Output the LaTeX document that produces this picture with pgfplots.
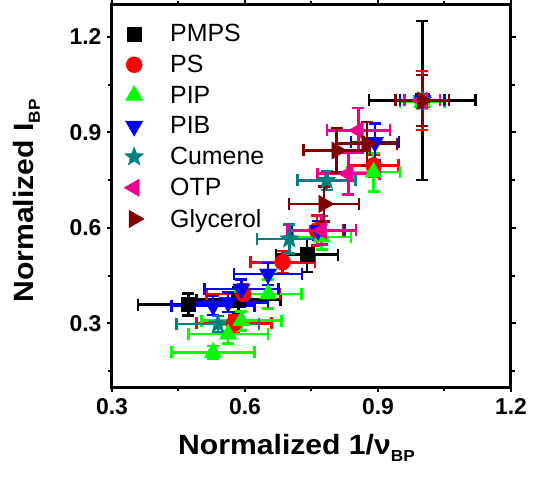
\documentclass[border=0pt]{standalone}
\usepackage{pgfplots}
\pgfplotsset{compat=1.18}
\usepackage{fontspec}
\setmainfont{Liberation Sans}
\definecolor{cteal}{RGB}{0,128,128}
\definecolor{cdred}{RGB}{128,0,0}
\pgfdeclareplotmark{fstar}{%
  \pgfpathmoveto{\pgfqpointpolar{90}{\pgfplotmarksize}}%
  \pgfpathlineto{\pgfqpointpolar{126}{0.42\pgfplotmarksize}}%
  \pgfpathlineto{\pgfqpointpolar{162}{\pgfplotmarksize}}%
  \pgfpathlineto{\pgfqpointpolar{198}{0.42\pgfplotmarksize}}%
  \pgfpathlineto{\pgfqpointpolar{234}{\pgfplotmarksize}}%
  \pgfpathlineto{\pgfqpointpolar{270}{0.42\pgfplotmarksize}}%
  \pgfpathlineto{\pgfqpointpolar{306}{\pgfplotmarksize}}%
  \pgfpathlineto{\pgfqpointpolar{342}{0.42\pgfplotmarksize}}%
  \pgfpathlineto{\pgfqpointpolar{18}{\pgfplotmarksize}}%
  \pgfpathlineto{\pgfqpointpolar{54}{0.42\pgfplotmarksize}}%
  \pgfpathclose
  \pgfusepathqfillstroke
}
\pgfplotsset{
  myerr/.style={error bars/.cd, x dir=both, x explicit, y dir=both, y explicit,
    error bar style={line width=2.6bp},
    error mark options={rotate=90, line width=2.6bp, mark size=6bp}},
}
\begin{document}
\begin{tikzpicture}
\begin{axis}[
  at={(0,0)}, anchor=south west,
  scale only axis, width=399bp, height=382bp,
  xmin=0.3, xmax=1.2, ymin=0.1, ymax=1.3,
  xtick={0.3,0.6,0.9,1.2}, ytick={0.3,0.6,0.9,1.2},
  minor xtick={0.45,0.75,1.05}, minor ytick={0.15,0.45,0.75,1.05},
  xticklabels={0.3,0.6,0.9,1.2}, yticklabels={0.3,0.6,0.9,1.2},
  tick align=outside,
  major tick length=5bp, minor tick length=4bp,
  every tick/.style={line width=2bp, black},
  axis line style={line width=3bp},
  tick label style={font=\fontsize{23}{27}\selectfont\bfseries},
  xticklabel style={yshift=-3bp},
  yticklabel style={xshift=-2bp},
  xlabel={\scalebox{1.08}[1]{\fontsize{28}{32}\selectfont\bfseries Normalized 1/ν\raisebox{-0.45ex}{\fontsize{16}{19}\selectfont BP}}},
  ylabel={\scalebox{1.08}[1]{\fontsize{28}{32}\selectfont\bfseries Normalized I\raisebox{-0.45ex}{\fontsize{16}{19}\selectfont BP}}},
  xlabel style={yshift=-13bp, xshift=-15bp},
  ylabel style={yshift=23bp, xshift=-5bp},
  legend style={draw=none, fill=none, at={(0.025,0.96)}, anchor=north west,
    font=\fontsize{25}{29}\selectfont, row sep=8bp, inner sep=2bp,
    column sep=24bp,
    legend cell align=left},
]
\addplot[black, only marks, mark=square*, mark size=7bp, myerr]
  table[x=x, y=y, x error=ex, y error=ey] {
x y ex ey
1.0 1.0 0.12 0.25
0.74 0.516 0.07 0.055
0.585 0.374 0.095 0.04
0.472 0.359 0.113 0.035
};
\addlegendentry{PMPS}
\addplot[red, only marks, mark=*, mark size=8bp, myerr]
  table[x=x, y=y, x error=ex, y error=ey] {
x y ex ey
1.0 1.0 0.06 0.093
0.89 0.796 0.056 0.035
0.762 0.592 0.06 0.047
0.685 0.492 0.073 0.035
0.596 0.392 0.083 0.03
0.575 0.30 0.085 0.025
};
\addlegendentry{PS}
\addplot[green, only marks, mark=triangle*, mark size=10bp, myerr]
  table[x=x, y=y, x error=ex, y error=ey] {
x y ex ey
1.0 0.995 0.05 0.02
0.89 0.775 0.06 0.06
0.773 0.571 0.066 0.04
0.652 0.392 0.075 0.045
0.592 0.308 0.09 0.03
0.562 0.266 0.09 0.03
0.528 0.209 0.094 0.02
};
\addlegendentry{PIP}
\addplot[blue, only marks, mark=triangle*, mark options={rotate=180}, mark size=10bp, myerr]
  table[x=x, y=y, x error=ex, y error=ey] {
x y ex ey
1.0 1.0 0.05 0.02
0.893 0.869 0.054 0.058
0.765 0.592 0.06 0.03
0.652 0.455 0.077 0.035
0.592 0.408 0.083 0.03
0.562 0.366 0.09 0.03
0.528 0.356 0.094 0.03
};
\addlegendentry{PIB}
\addplot[cteal, only marks, mark=fstar, mark size=10bp, myerr]
  table[x=x, y=y, x error=ex, y error=ey] {
x y ex ey
1.0 1.0 0.04 0.02
0.784 0.749 0.065 0.03
0.70 0.565 0.073 0.045
0.539 0.298 0.093 0.025
};
\addlegendentry{Cumene}
\addplot[magenta, only marks, mark=triangle*, mark options={rotate=90}, mark size=10bp, myerr]
  table[x=x, y=y, x error=ex, y error=ey] {
x y ex ey
1.0 1.0 0.04 0.02
0.856 0.906 0.071 0.07
0.833 0.77 0.07 0.065
0.773 0.592 0.077 0.045
};
\addlegendentry{OTP}
\addplot[cdred, only marks, mark=triangle*, mark options={rotate=-90}, mark size=10bp, myerr]
  table[x=x, y=y, x error=ex, y error=ey] {
x y ex ey
1.0 1.0 0.06 0.08
0.875 0.864 0.068 0.068
0.807 0.843 0.075 0.07
0.778 0.675 0.079 0.055
};
\addlegendentry{Glycerol}
\end{axis}
\pgfresetboundingbox
\path (-112bp,-93bp) rectangle (427bp,387bp);
\end{tikzpicture}
\end{document}
